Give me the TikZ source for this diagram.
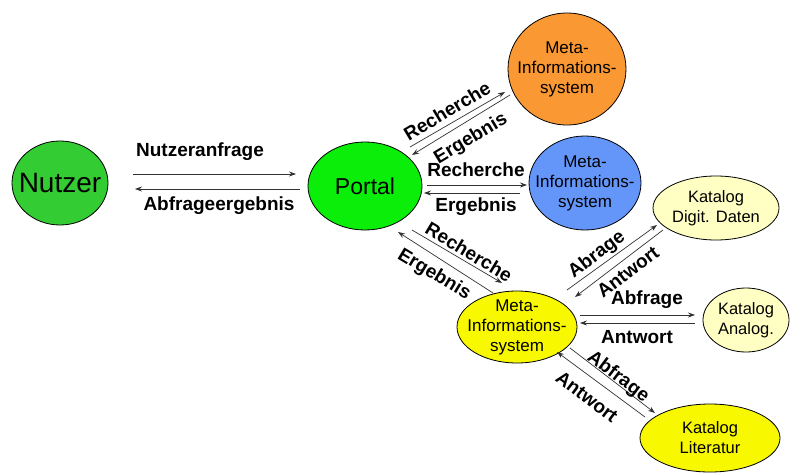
\documentclass[tikz,border=0pt]{standalone}
\usepackage{fontspec}
\setmainfont{Liberation Sans}
\usepackage{tikz}
\usetikzlibrary{positioning, arrows.meta, shapes.geometric, calc}

\definecolor{nutzergruen}{RGB}{51,204,51}
\definecolor{portalgruen}{RGB}{10,238,10}
\definecolor{metaorange}{RGB}{250,152,52}
\definecolor{metablau}{RGB}{100,150,250}
\definecolor{metagelb}{RGB}{248,248,0}
\definecolor{kataloghell}{RGB}{255,255,196}

\begin{document}
\begin{tikzpicture}[
        x=1pt, y=1pt,
        >={Stealth[length=7pt,width=5pt]},
        knoten/.style={ellipse, draw, line width=0.8pt, align=center,
            inner xsep=-20pt, inner ysep=-12pt,
            font=\fontsize{17}{20}\selectfont},
        pfeil/.style={->, line width=0.7pt, draw=black!80},
        beschr/.style={font=\fontsize{19}{22}\selectfont\bfseries, inner sep=0pt}
    ]
        \useasboundingbox (0,0) rectangle (791,472);

        % Knoten
        \node[knoten, fill=nutzergruen, minimum width=96, minimum height=84,
              font=\fontsize{28}{32}\selectfont] (nutzer) at (60,289) {Nutzer};
        \node[knoten, fill=portalgruen, minimum width=114, minimum height=88,
              font=\fontsize{23}{26}\selectfont] (portal) at (365,286) {Portal};
        \node[knoten, fill=metaorange, minimum width=118, minimum height=112] (metaA) at (567,403)
            {Meta-\\Informations-\\system};
        \node[knoten, fill=metablau, minimum width=112, minimum height=94] (metaB) at (585,289)
            {Meta-\\Informations-\\system};
        \node[knoten, fill=metagelb, minimum width=120, minimum height=72] (metaC) at (517,145)
            {Meta-\\Informations-\\system};
        \node[knoten, fill=kataloghell, minimum width=126, minimum height=64,
              font=\fontsize{16.5}{20}\selectfont] (digit) at (716,264) {Katalog\\Digit. Daten};
        \node[knoten, fill=kataloghell, minimum width=86, minimum height=64,
              font=\fontsize{16.5}{20}\selectfont] (analog) at (746,152) {Katalog\\Analog.};
        \node[knoten, fill=metagelb, minimum width=140, minimum height=68,
              font=\fontsize{16.5}{20}\selectfont] (literatur) at (710,34) {Katalog\\Literatur};

        % Pfeile
        \draw[pfeil] ([shift={(73,9)}]nutzer.center) -- ([shift={(-69,12)}]portal.center);
        \draw[pfeil] ([shift={(-65,-3)}]portal.center) -- ([shift={(75,-6)}]nutzer.center);
        \draw[pfeil] ([shift={(45,39)}]portal.center) -- ([shift={(-62,-23)}]metaA.center);
        \draw[pfeil] ([shift={(-57,-26)}]metaA.center) -- ([shift={(47,31)}]portal.center);
        \draw[pfeil] ([shift={(62,1)}]portal.center) -- ([shift={(-58,-2)}]metaB.center);
        \draw[pfeil] ([shift={(-65,-10)}]metaB.center) -- ([shift={(59,-7)}]portal.center);
        \draw[pfeil] ([shift={(47,-44)}]portal.center) -- ([shift={(-15,44)}]metaC.center);
        \draw[pfeil] ([shift={(-24,34)}]metaC.center) -- ([shift={(33,-46)}]portal.center);
        \draw[pfeil] ([shift={(50,37)}]metaC.center) -- ([shift={(-59,-17)}]digit.center);
        \draw[pfeil] ([shift={(-53,-22)}]digit.center) -- ([shift={(58,30)}]metaC.center);
        \draw[pfeil] ([shift={(63,12)}]metaC.center) -- ([shift={(-51,5)}]analog.center);
        \draw[pfeil] ([shift={(-51,-3)}]analog.center) -- ([shift={(63,4)}]metaC.center);
        \draw[pfeil] ([shift={(53,-21)}]metaC.center) -- ([shift={(-55,25)}]literatur.center);
        \draw[pfeil] ([shift={(-65,21)}]literatur.center) -- ([shift={(40,-25)}]metaC.center);

        % Beschriftungen
        \node[beschr] (lanfrage) at (200,320) {Nutzeranfrage};
        \node[beschr] (lergebnis) at (219,266) {Abfrageergebnis};
        \node[beschr, rotate=31] (lrechA) at (447,361) {Recherche};
        \node[beschr, rotate=31] (lergA) at (471,333) {Ergebnis};
        \node[beschr] (lrechB) at (476,302) {Recherche};
        \node[beschr] (lergB) at (476,265) {Ergebnis};
        \node[beschr, rotate=-31] (lrechC) at (469,220) {Recherche};
        \node[beschr, rotate=-31] (lergC) at (434,197) {Ergebnis};
        \node[beschr, rotate=37] (labrD) at (597,217) {Abrage};
        \node[beschr, rotate=37] (lantD) at (628,200) {Antwort};
        \node[beschr] (labfrA) at (647,172) {Abfrage};
        \node[beschr] (lantA) at (637,135) {Antwort};
        \node[beschr, rotate=-37] (labfrL) at (618,95) {Abfrage};
        \node[beschr, rotate=-37] (lantL) at (587,75) {Antwort};
    \end{tikzpicture}
\end{document}
